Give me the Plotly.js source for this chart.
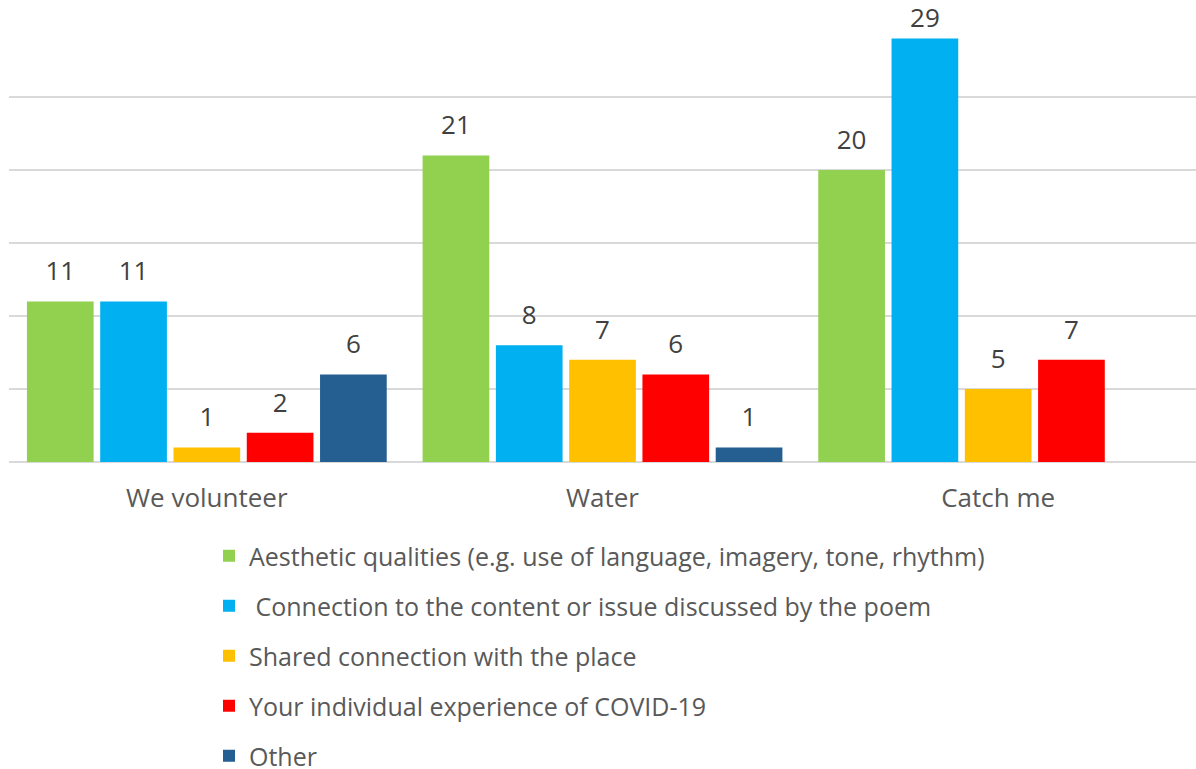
<!DOCTYPE html>
<html><head><meta charset="utf-8">
<script src="https://cdn.plot.ly/plotly-3.0.1.min.js"></script>
<style>html,body{margin:0;padding:0;background:#fff;}</style>
</head><body>
<div id="chart" style="width:1196px;height:769px;"></div>
<script>
const categories = ["We volunteer", "Water", "Catch me"];
const seriesNames = [
  "Aesthetic qualities (e.g. use of language, imagery, tone, rhythm)",
  " Connection to the content or issue discussed by the poem",
  "Shared connection with the place",
  "Your individual experience of COVID-19",
  "Other"
];
const aesthetic = [11, 21, 20];
const connection = [11, 8, 29];
const shared = [1, 7, 5];
const covid = [2, 6, 7];
const other = [6, 1, null];
const colors = ["#92D050", "#00B0F0", "#FFC000", "#FF0000", "#255E91"];
const allValues = [aesthetic, connection, shared, covid, other];

const FONT = "'Open Sans', 'Noto Sans', sans-serif";
const YMAX = 30;
const bars = allValues.map((vals, i) => ({
  type: "bar",
  name: seriesNames[i],
  x: categories,
  y: vals,
  marker: {color: colors[i]},
  hoverinfo: "x+y+name",
  legendgroup: "g" + i
}));
// invisible markers used only to place the value labels above the bars
const labels = allValues.map((vals, i) => ({
  type: "scatter",
  mode: "markers+text",
  x: categories,
  y: vals,
  text: vals.map(v => v === null ? "" : String(v)),
  textposition: "top center",
  textfont: {family: FONT, size: 26, color: "#404040"},
  marker: {
    size: vals.map(v => (v !== null && v > YMAX - 3) ? 6 : 22),
    color: "rgba(0,0,0,0)", opacity: 0,
    line: {width: 0, color: "rgba(0,0,0,0)"}
  },
  cliponaxis: false,
  showlegend: false,
  hoverinfo: "skip"
}));

const layout = {
  width: 1196, height: 769,
  margin: {l: 9, r: 0, t: 24, b: 307, autoexpand: false},
  paper_bgcolor: "#fff", plot_bgcolor: "#fff",
  barmode: "group",
  bargap: 0.074,
  bargroupgap: 0.09,
  scattermode: "group",
  scattergap: 0.074,
  font: {family: FONT, color: "#595959"},
  xaxis: {
    tickfont: {family: FONT, size: 26, color: "#595959"},
    showgrid: false, zeroline: false, showline: false,
    ticks: "", ticklabelstandoff: 18
  },
  yaxis: {
    range: [0, YMAX], dtick: 5,
    showticklabels: false,
    showgrid: true, gridcolor: "#D9D9D9", gridwidth: 2,
    zeroline: true, zerolinecolor: "#D9D9D9", zerolinewidth: 2,
    showline: false
  },
  showlegend: true,
  legend: {
    orientation: "v",
    traceorder: "grouped",
    tracegroupgap: 14.5,
    xref: "container", yref: "container",
    x: 209/1196, y: 1 - 533/769,
    xanchor: "left", yanchor: "top",
    font: {family: FONT, size: 25, color: "#595959"},
    itemwidth: 30,
    bgcolor: "rgba(0,0,0,0)"
  }
};

Plotly.newPlot("chart", bars.concat(labels), layout, {displayModeBar: false, staticPlot: true});
</script>
</body></html>
